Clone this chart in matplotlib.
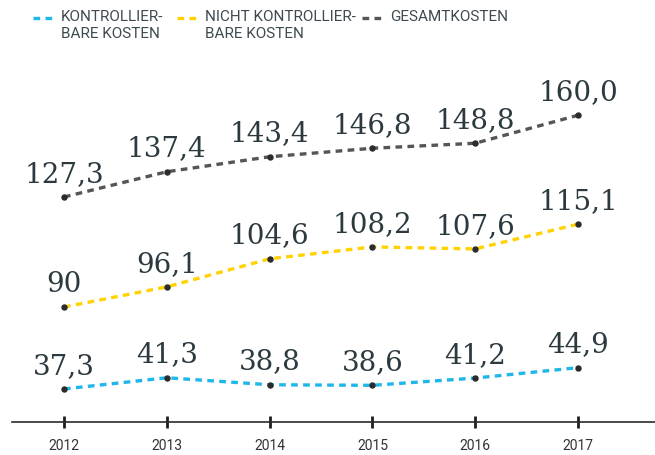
import matplotlib.pyplot as plt
from matplotlib.lines import Line2D

# cost data (Mio.) per year
years = [2012, 2013, 2014, 2015, 2016, 2017]
kontrollierbar = [37.3, 41.3, 38.8, 38.6, 41.2, 44.9]
nicht_kontrollierbar = [90, 96.1, 104.6, 108.2, 107.6, 115.1]
gesamt = [127.3, 137.4, 143.4, 146.8, 148.8, 160.0]

labels_kontr = ["37,3", "41,3", "38,8", "38,6", "41,2", "44,9"]
labels_nicht = ["90", "96,1", "104,6", "108,2", "107,6", "115,1"]
labels_gesamt = ["127,3", "137,4", "143,4", "146,8", "148,8", "160,0"]

legend_names = ["KONTROLLIER-\nBARE KOSTEN", "NICHT KONTROLLIER-\nBARE KOSTEN", "GESAMTKOSTEN"]
colors = ["#1fb6ea", "#ffd200", "#555555"]

# each series gets its own vertical range so the bands stack nicely
ranges = [(25.5, 25.5 + 362 / 2.8), (55.15, 55.15 + 362 / 3.3), (37.3, 37.3 + 362 / 2.5)]

W, H = 655, 455
fig = plt.figure(figsize=(W / 100, H / 100), dpi=100)
ax = fig.add_axes([12 / W, (H - 422) / H, 643 / W, 362 / H])
ax.set_xlim(2012 - 52 / 102.8, 2017 + 77 / 102.8)

text_col = "#2c3a40"
series = [(kontrollierbar, labels_kontr), (nicht_kontrollierbar, labels_nicht), (gesamt, labels_gesamt)]
for i, (vals, labs) in enumerate(series):
    a = ax if i == 0 else ax.twinx()
    a.set_ylim(*ranges[i])
    a.set_xlim(ax.get_xlim())
    a.plot(years, vals, color=colors[i], lw=2.4, dashes=(2.0, 1.6), zorder=2)
    a.plot(years, vals, "o", color="#2b2b2b", ms=3.6, zorder=3)
    for x, v, t in zip(years, vals, labs):
        a.annotate(t, (x, v), xytext=(0, 11), textcoords="offset points",
                   ha="center", va="baseline", fontsize=20,
                   family="DejaVu Serif", color=text_col)
    for s in a.spines.values():
        s.set_visible(False)
    a.set_yticks([])

ax.spines["bottom"].set_visible(True)
ax.spines["bottom"].set_color("#2b2b2b")
ax.spines["bottom"].set_linewidth(1.2)
ax.set_xticks(years)
ax.set_xticklabels([str(y) for y in years], fontsize=10, color="#333333",
                   family="Roboto")
ax.tick_params(axis="x", direction="inout", length=8, width=2, color="#1e1e1e", pad=8)

# legend drawn along the top
leg_x = [33, 177, 362]
for x, name, c in zip(leg_x, legend_names, colors):
    fig.add_artist(Line2D([x / W, (x + 22) / W], [1 - 18 / H, 1 - 18 / H],
                          color=c, lw=2.4, dashes=(2.0, 1.6)))
    fig.text((x + 28) / W, 1 - 10 / H, name, fontsize=11, family="Roboto",
             color="#3d4a50", va="top", ha="left", linespacing=1.3)

fig.savefig("out.png", dpi=100)
